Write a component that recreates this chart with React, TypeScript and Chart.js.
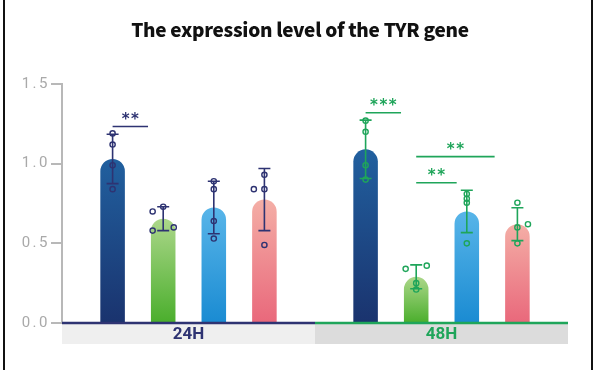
import React, { useEffect, useRef } from 'react';
import { Chart, registerables } from 'chart.js';

Chart.register(...registerables);

// ---------- data ----------
const chartTitle = 'The expression level of the TYR gene';
const timePoints = ['24H', '48H'];
const seriesNames = ['Group 1', 'Group 2', 'Group 3', 'Group 4'];

// bar means per time point
const meanGroup1 = [1.03, 1.09];
const meanGroup2 = [0.655, 0.29];
const meanGroup3 = [0.725, 0.7];
const meanGroup4 = [0.775, 0.62];

// standard deviations per time point
const sdGroup1 = [0.155, 0.183];
const sdGroup2 = [0.075, 0.075];
const sdGroup3 = [0.165, 0.133];
const sdGroup4 = [0.195, 0.103];

// replicate values [24H, 48H]
const repsGroup1 = [[1.19, 1.12, 0.99, 0.84], [1.27, 1.2, 0.99, 0.9]];
const repsGroup2 = [[0.7, 0.73, 0.58, 0.6], [0.34, 0.36, 0.25, 0.21]];
const repsGroup3 = [[0.89, 0.84, 0.64, 0.53], [0.81, 0.78, 0.755, 0.5]];
const repsGroup4 = [[0.84, 0.93, 0.84, 0.49], [0.755, 0.6, 0.62, 0.5]];
// replicate jitter side (-1 left, 0 centre, 1 right)
const jitterGroup1 = [[0, 0, 0, 0], [0, 0, 0, 0]];
const jitterGroup2 = [[-1, 0, -1, 1], [-1, 1, 0, 0]];
const jitterGroup3 = [[0, 0, 0, 0], [0, 0, 0, 0]];
const jitterGroup4 = [[-1, 0, 0, 0], [0, 0, 1, 0]];

// significance brackets
const sigTimePoint = [0, 1, 1, 1];
const sigFromBar = [0, 0, 1, 1];
const sigToBar = [0.7, 0.7, 2.55, 1.8];
const sigLevel = [1.233, 1.32, 1.044, 0.88];
const sigLabel = ['**', '***', '**', '**'];

const yTicks = [0, 0.5, 1.0, 1.5];

// ---------- styles ----------
const topColors = ['#21609f', '#acd78a', '#58b5e9', '#f4aea6'];
const bottomColors = ['#1a336e', '#4aae2c', '#1a8bd2', '#e9687b'];
const timeColors = ['#2e3372', '#1fa55a'];
const bandColors = ['#efefef', '#dcdcdc'];

const means = [meanGroup1, meanGroup2, meanGroup3, meanGroup4];
const sds = [sdGroup1, sdGroup2, sdGroup3, sdGroup4];
const reps = [repsGroup1, repsGroup2, repsGroup3, repsGroup4];
const jitters = [jitterGroup1, jitterGroup2, jitterGroup3, jitterGroup4];

function barGradient(c: any, d: number) {
  const chart = c.chart;
  const ys = chart.scales && chart.scales.y;
  if (c.type !== 'data' || !ys || !chart.chartArea) return bottomColors[d];
  const v = c.parsed ? c.parsed.y : means[d][c.dataIndex];
  const top = ys.getPixelForValue(v);
  const bottom = ys.getPixelForValue(0);
  if (!isFinite(top) || !isFinite(bottom) || top === bottom) return bottomColors[d];
  const g = chart.ctx.createLinearGradient(0, bottom, 0, top);
  g.addColorStop(0, bottomColors[d]);
  g.addColorStop(1, topColors[d]);
  return g;
}

const decor = {
  id: 'decor',
  beforeDraw(chart: any) {
    (chart.ctx as any).letterSpacing = '2.5px';
  },
  afterDatasetsDraw(chart: any) {
    const ctx = chart.ctx as CanvasRenderingContext2D;
    const xs = chart.scales.x;
    const ys = chart.scales.y;
    const area = chart.chartArea;
    ctx.save();
    (ctx as any).letterSpacing = '0px';

    const half = (xs.getPixelForValue(1) - xs.getPixelForValue(0)) / 2;
    timePoints.forEach((label, i) => {
      const cx = xs.getPixelForValue(i);
      const left = cx - half;
      ctx.fillStyle = bandColors[i];
      ctx.fillRect(left, area.bottom + 1, half * 2, 20);
      ctx.strokeStyle = timeColors[i];
      ctx.lineWidth = 2.5;
      ctx.beginPath();
      ctx.moveTo(left, area.bottom);
      ctx.lineTo(left + half * 2, area.bottom);
      ctx.stroke();
      ctx.fillStyle = timeColors[i];
      ctx.font = 'bold 17px Roboto';
      ctx.textAlign = 'center';
      ctx.textBaseline = 'middle';
      ctx.fillText(label, cx, area.bottom + 12);
    });

    // error bars and replicate points
    for (let d = 0; d < seriesNames.length; d++) {
      const meta = chart.getDatasetMeta(d);
      meta.data.forEach((bar: any, i: number) => {
        const cx = bar.x;
        const w = bar.width;
        const col = timeColors[i];
        const m = means[d][i];
        const s = sds[d][i];
        const yt = ys.getPixelForValue(m + s);
        const yb = ys.getPixelForValue(m - s);
        ctx.strokeStyle = col;
        ctx.lineWidth = 1.6;
        ctx.beginPath();
        ctx.moveTo(cx, yt);
        ctx.lineTo(cx, yb);
        ctx.moveTo(cx - 6, yt);
        ctx.lineTo(cx + 6, yt);
        ctx.moveTo(cx - 6, yb);
        ctx.lineTo(cx + 6, yb);
        ctx.stroke();
        ctx.lineWidth = 1.4;
        reps[d][i].forEach((v, k) => {
          const px = cx + jitters[d][i][k] * w * 0.43;
          const py = ys.getPixelForValue(v);
          ctx.beginPath();
          ctx.arc(px, py, 2.6, 0, Math.PI * 2);
          ctx.stroke();
        });
      });
    }

    // significance
    const barCenter = (t: number, pos: number) => {
      const k = Math.floor(pos);
      const f = pos - k;
      const a = chart.getDatasetMeta(Math.min(k, 3)).data[t].x;
      const b = chart.getDatasetMeta(Math.min(k + 1, 3)).data[t].x;
      return a + (b - a) * f;
    };
    sigLabel.forEach((lab, j) => {
      const t = sigTimePoint[j];
      const x1 = barCenter(t, sigFromBar[j]);
      const x2 = barCenter(t, sigToBar[j]);
      const yy = ys.getPixelForValue(sigLevel[j]);
      ctx.strokeStyle = timeColors[t];
      ctx.lineWidth = 1.6;
      ctx.beginPath();
      ctx.moveTo(x1, yy);
      ctx.lineTo(x2, yy);
      ctx.stroke();
      ctx.fillStyle = timeColors[t];
      ctx.font = 'bold 15px "DejaVu Sans"';
      (ctx as any).letterSpacing = '1.5px';
      ctx.textAlign = 'center';
      ctx.textBaseline = 'alphabetic';
      ctx.fillText(lab, (x1 + x2) / 2 + 0.75, yy - 3);
      (ctx as any).letterSpacing = '0px';
    });

    // title
    ctx.fillStyle = '#111';
    ctx.font = '900 19px "Noto Sans CJK SC"';
    (ctx as any).letterSpacing = '-0.3px';
    ctx.textAlign = 'center';
    ctx.textBaseline = 'alphabetic';
    ctx.fillText(chartTitle, 300, 37);
    (ctx as any).letterSpacing = '0px';

    // frame
    ctx.strokeStyle = '#111';
    ctx.lineWidth = 2;
    ctx.beginPath();
    ctx.moveTo(4, 0);
    ctx.lineTo(4, chart.height);
    ctx.moveTo(592, 0);
    ctx.lineTo(592, chart.height);
    ctx.stroke();
    ctx.restore();
  },
};

export default function App() {
  const ref = useRef<HTMLCanvasElement | null>(null);
  useEffect(() => {
    if (!ref.current) return;
    const chart = new Chart(ref.current, {
      type: 'bar',
      data: {
        labels: timePoints,
        datasets: seriesNames.map((name, d) => ({
          label: name,
          data: means[d],
          backgroundColor: (c: any) => barGradient(c, d),
          borderWidth: 0,
          borderRadius: { topLeft: 13, topRight: 13, bottomLeft: 0, bottomRight: 0 },
          borderSkipped: 'bottom',
          categoryPercentage: 0.8,
          barPercentage: 0.485,
        })),
      },
      options: {
        responsive: false,
        animation: false,
        events: [],
        layout: { padding: { top: 84, right: 32, left: 0, bottom: 0 } },
        plugins: {
          legend: { display: false },
          title: { display: false },
          tooltip: { enabled: false },
        },
        scales: {
          x: {
            type: 'category',
            grid: { display: false },
            border: { display: false },
            ticks: { display: false },
            afterFit: (s: any) => {
              s.height = 47;
            },
          },
          y: {
            type: 'linear',
            min: 0,
            max: 1.5,
            afterBuildTicks: (s: any) => {
              s.ticks = yTicks.map((v) => ({ value: v }));
            },
            ticks: {
              color: '#a9a9a9',
              padding: 1,
              font: { family: 'Roboto', size: 15 },
              callback: (v: any) => Number(v).toFixed(1),
            },
            grid: {
              drawOnChartArea: false,
              drawTicks: true,
              tickLength: 11,
              color: '#b8b8b8',
              lineWidth: 2,
            },
            border: { display: true, color: '#b8b8b8', width: 2 },
            afterFit: (s: any) => {
              s.width = 62;
            },
          },
        },
      },
      plugins: [decor],
    } as any);
    return () => chart.destroy();
  }, []);
  return (
    <div style={{ position: 'fixed', left: 0, top: 0, width: 600, height: 370, background: '#fff' }}>
      <canvas ref={ref} width={600} height={370} style={{ display: 'block' }} />
    </div>
  );
}
